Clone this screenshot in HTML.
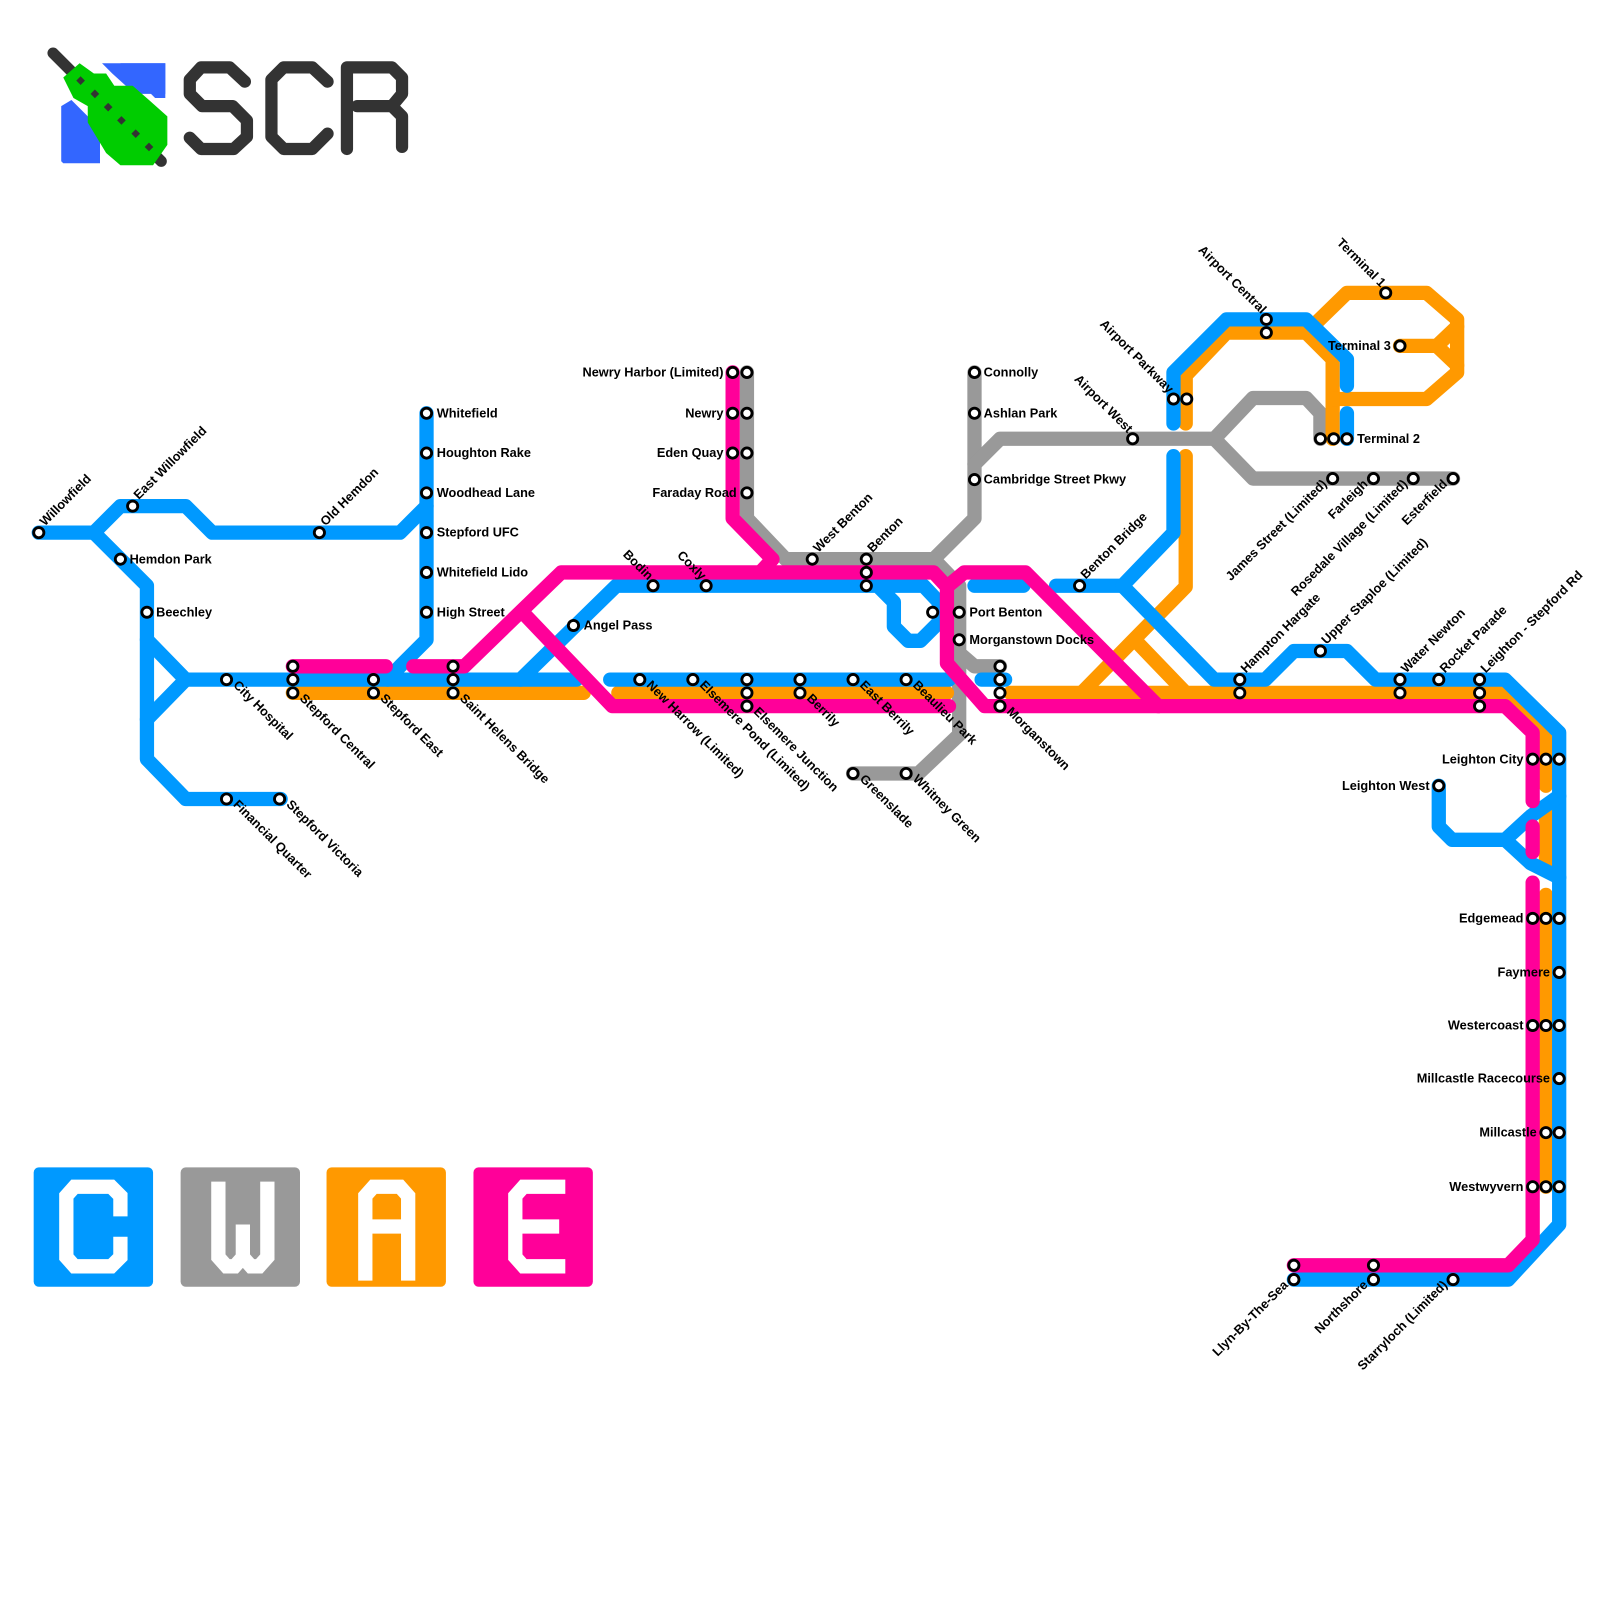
<!DOCTYPE html>
<html><head><meta charset="utf-8"><style>
html,body{margin:0;padding:0;background:#fff}
svg{display:block}
text{font-family:"Liberation Sans",Arial,sans-serif;font-weight:bold;font-size:12.5px;fill:#000}
.l{fill:none;stroke-width:14;stroke-linecap:round;stroke-linejoin:round}
.b{stroke:#0099ff}.g{stroke:#999999}.o{stroke:#ff9900}.p{stroke:#ff0099}
.s{fill:#fff;stroke:#000;stroke-width:2.8}
.e{text-anchor:end}
</style></head><body>
<svg width="1600" height="1600" viewBox="0 0 1568 1568" xmlns="http://www.w3.org/2000/svg">
<!-- Logo -->
<g>
<path d="M100,62 H162 V96 L152,96 L118,62 Z" fill="#3366ff"/>
<path d="M100,62 H162 V92 H132 L110,72 Z" fill="#3366ff"/>
<path d="M60,104 L70,98 L98,126 L98,160 H62 L60,158 Z" fill="#3366ff"/>
<line x1="52" y1="52" x2="158" y2="158" stroke="#333" stroke-width="11" stroke-linecap="round"/>
<path d="M62,76 L78,62 L92,72 L104,72 L112,84 L130,84 L146,98 L164,114 L164,142 L150,162 L118,162 L104,150 L86,120 L86,104 L72,96 Z" fill="#00cc00"/>
<g fill="#333"><rect x="76" y="76" width="6" height="6" transform="rotate(45 79 79)"/><rect x="90" y="89" width="6" height="6" transform="rotate(45 93 92)"/><rect x="103" y="102" width="6" height="6" transform="rotate(45 106 105)"/><rect x="116" y="115" width="6" height="6" transform="rotate(45 119 118)"/><rect x="130" y="128" width="6" height="6" transform="rotate(45 133 131)"/><rect x="143" y="141" width="6" height="6" transform="rotate(45 146 144)"/></g>
<g fill="none" stroke="#333" stroke-width="12" stroke-linecap="round" stroke-linejoin="round">
<path d="M240,80 L225,66 H197 L186,78 V92 L198,104 H228 L242,118 V134 L229,146 H197 L186,135"/>
<path d="M321,80 L306,66 H278 L266,78 V134 L278,146 H306 L321,131"/>
<path d="M340,146 V66 H384 L394,76 V92 L384,104 H350 M384,104 L394,114 V144"/>
</g>
</g>

<!-- GRAY -->
<path class="l g" d="M732,365 V508 L770,548 H915 L955,508 V365"/>
<path class="l g" d="M955,455 L980,430 H1190 L1228,390 H1280 L1294,405 V430"/>
<path class="l g" d="M1190,430 L1228,469 H1424"/>
<path class="l g" d="M915,548 L940,574 V640 L955,653 H980"/>
<path class="l g" d="M940,640 V720 L900,758 H836"/>

<!-- ORANGE -->
<path class="l o" d="M287,679 H572"/>
<path class="l o" d="M606,679 H928"/>
<path class="l o" d="M990,679 H1475 L1515,718 V770"/>
<path class="l o" d="M1515,797 V848"/>
<path class="l o" d="M1515,877 V1163"/>
<path class="l o" d="M1060,679 L1162,575 V447"/>
<path class="l o" d="M1112,627 L1162,679"/>
<path class="l o" d="M1162,415 V368 L1202,326 H1280 L1306,352 V430"/>
<path class="l o" d="M1280,326 L1320,287 H1398 L1428,313 V365 L1398,391 H1306"/>
<path class="l o" d="M1372,339 H1408 L1428,320 M1408,339 L1428,358"/>

<!-- BLUE -->
<path class="l b" d="M38,522 H92 L118,496 H182 L208,522 H392 L418,496"/>
<path class="l b" d="M92,522 L144,574 V744 L182,783 H275"/>
<path class="l b" d="M144,627 L182,666 L144,705"/>
<path class="l b" d="M418,405 V627 L392,653 L380,666"/>
<path class="l b" d="M182,666 H565"/>
<path class="l b" d="M598,666 H930"/>
<path class="l b" d="M962,666 H985"/>
<path class="l b" d="M510,666 L604,574 H860 L876,590 V614 L890,628 H902 L920,610 V590 L905,574 H860"/>
<path class="l b" d="M955,574 H1003"/>
<path class="l b" d="M1035,574 H1100 L1150,522 V447"/>
<path class="l b" d="M1150,415 V365 L1202,313 H1280 L1320,352 V378"/>
<path class="l b" d="M1320,405 V430"/>
<path class="l b" d="M1100,574 L1190,666 H1240 L1268,638 H1320 L1348,666 H1475 L1528,718 V1200 L1478,1254 H1268"/>
<path class="l b" d="M1410,770 V810 L1423,823 H1475 L1500,800 L1528,780 M1475,823 L1500,846 L1528,860"/>

<!-- PINK -->
<path class="l p" d="M287,653 H378"/>
<path class="l p" d="M405,653 H455 L550,561 H915 L928,575 V650 L965,692 H1475 L1502,718 V785"/>
<path class="l p" d="M1502,810 V835"/>
<path class="l p" d="M1502,865 V1215 L1478,1240 H1268"/>
<path class="l p" d="M718,365 V508 L757,548 L745,561"/>
<path class="l p" d="M928,575 L945,561 H1005 L1135,692"/>
<path class="l p" d="M512,600 L600,692 H930"/>

<!-- STATIONS -->
<g class="s">
<circle cx="38" cy="522" r="5"/><circle cx="130" cy="496" r="5"/><circle cx="118" cy="548" r="5"/><circle cx="144" cy="600" r="5"/>
<circle cx="313" cy="522" r="5"/>
<circle cx="418" cy="405" r="5"/><circle cx="418" cy="444" r="5"/><circle cx="418" cy="483" r="5"/><circle cx="418" cy="522" r="5"/><circle cx="418" cy="561" r="5"/><circle cx="418" cy="600" r="5"/>
<circle cx="222" cy="666" r="5"/><circle cx="222" cy="783" r="5"/><circle cx="274" cy="783" r="5"/>
<circle cx="287" cy="653" r="5"/><circle cx="287" cy="666" r="5"/><circle cx="287" cy="679" r="5"/>
<circle cx="366" cy="666" r="5"/><circle cx="366" cy="679" r="5"/>
<circle cx="444" cy="653" r="5"/><circle cx="444" cy="666" r="5"/><circle cx="444" cy="679" r="5"/>
<circle cx="562" cy="613" r="5"/><circle cx="640" cy="574" r="5"/><circle cx="692" cy="574" r="5"/>
<circle cx="627" cy="666" r="5"/><circle cx="679" cy="666" r="5"/>
<circle cx="732" cy="666" r="5"/><circle cx="732" cy="679" r="5"/><circle cx="732" cy="692" r="5"/>
<circle cx="784" cy="666" r="5"/><circle cx="784" cy="679" r="5"/>
<circle cx="836" cy="666" r="5"/><circle cx="888" cy="666" r="5"/>
<circle cx="836" cy="758" r="5"/><circle cx="888" cy="758" r="5"/>
<circle cx="718" cy="365" r="5"/><circle cx="732" cy="365" r="5"/><circle cx="718" cy="405" r="5"/><circle cx="732" cy="405" r="5"/><circle cx="718" cy="444" r="5"/><circle cx="732" cy="444" r="5"/><circle cx="732" cy="483" r="5"/>
<circle cx="796" cy="548" r="5"/><circle cx="849" cy="548" r="5"/><circle cx="849" cy="561" r="5"/><circle cx="849" cy="574" r="5"/>
<circle cx="914" cy="600" r="5"/><circle cx="940" cy="600" r="5"/><circle cx="940" cy="627" r="5"/>
<circle cx="980" cy="653" r="5"/><circle cx="980" cy="666" r="5"/><circle cx="980" cy="679" r="5"/><circle cx="980" cy="692" r="5"/>
<circle cx="955" cy="365" r="5"/><circle cx="955" cy="405" r="5"/><circle cx="955" cy="470" r="5"/>
<circle cx="1058" cy="574" r="5"/><circle cx="1110" cy="430" r="5"/>
<circle cx="1150" cy="391" r="5"/><circle cx="1163" cy="391" r="5"/>
<circle cx="1241" cy="313" r="5"/><circle cx="1241" cy="326" r="5"/>
<circle cx="1358" cy="287" r="5"/><circle cx="1372" cy="339" r="5"/>
<circle cx="1294" cy="430" r="5"/><circle cx="1307" cy="430" r="5"/><circle cx="1320" cy="430" r="5"/>
<circle cx="1306" cy="469" r="5"/><circle cx="1346" cy="469" r="5"/><circle cx="1385" cy="469" r="5"/><circle cx="1424" cy="469" r="5"/>
<circle cx="1215" cy="666" r="5"/><circle cx="1215" cy="679" r="5"/><circle cx="1294" cy="638" r="5"/>
<circle cx="1372" cy="666" r="5"/><circle cx="1372" cy="679" r="5"/><circle cx="1410" cy="666" r="5"/>
<circle cx="1450" cy="666" r="5"/><circle cx="1450" cy="679" r="5"/><circle cx="1450" cy="692" r="5"/>
<circle cx="1502" cy="744" r="5"/><circle cx="1515" cy="744" r="5"/><circle cx="1528" cy="744" r="5"/>
<circle cx="1410" cy="770" r="5"/>
<circle cx="1502" cy="900" r="5"/><circle cx="1515" cy="900" r="5"/><circle cx="1528" cy="900" r="5"/>
<circle cx="1528" cy="953" r="5"/>
<circle cx="1502" cy="1005" r="5"/><circle cx="1515" cy="1005" r="5"/><circle cx="1528" cy="1005" r="5"/>
<circle cx="1528" cy="1057" r="5"/>
<circle cx="1515" cy="1110" r="5"/><circle cx="1528" cy="1110" r="5"/>
<circle cx="1502" cy="1163" r="5"/><circle cx="1515" cy="1163" r="5"/><circle cx="1528" cy="1163" r="5"/>
<circle cx="1268" cy="1240" r="5"/><circle cx="1268" cy="1254" r="5"/>
<circle cx="1346" cy="1240" r="5"/><circle cx="1346" cy="1254" r="5"/>
<circle cx="1424" cy="1254" r="5"/>
</g>

<!-- LABELS -->
<g>
<text transform="translate(44,516) rotate(-45)">Willowfield</text>
<text transform="translate(136,490) rotate(-45)">East Willowfield</text>
<text x="127" y="552">Hemdon Park</text>
<text x="153" y="604">Beechley</text>
<text transform="translate(319,516) rotate(-45)">Old Hemdon</text>
<text x="428" y="409">Whitefield</text>
<text x="428" y="448">Houghton Rake</text>
<text x="428" y="487">Woodhead Lane</text>
<text x="428" y="526">Stepford UFC</text>
<text x="428" y="565">Whitefield Lido</text>
<text x="428" y="604">High Street</text>
<text transform="translate(228,672) rotate(45)">City Hospital</text>
<text transform="translate(228,789) rotate(45)">Financial Quarter</text>
<text transform="translate(280,789) rotate(45)">Stepford Victoria</text>
<text transform="translate(293,685) rotate(45)">Stepford Central</text>
<text transform="translate(372,685) rotate(45)">Stepford East</text>
<text transform="translate(450,685) rotate(45)">Saint Helens Bridge</text>
<text x="572" y="617">Angel Pass</text>
<text class="e" transform="translate(635,569) rotate(45)">Bodin</text>
<text class="e" transform="translate(687,569) rotate(45)">Coxly</text>
<text transform="translate(633,672) rotate(45)">New Harrow (Limited)</text>
<text transform="translate(685,672) rotate(45)">Elsemere Pond (Limited)</text>
<text transform="translate(738,698) rotate(45)">Elsemere Junction</text>
<text transform="translate(790,685) rotate(45)">Berrily</text>
<text transform="translate(842,672) rotate(45)">East Berrily</text>
<text transform="translate(894,672) rotate(45)">Beaulieu Park</text>
<text transform="translate(842,764) rotate(45)">Greenslade</text>
<text transform="translate(894,764) rotate(45)">Whitney Green</text>
<text class="e" x="709" y="369">Newry Harbor (Limited)</text>
<text class="e" x="709" y="409">Newry</text>
<text class="e" x="709" y="448">Eden Quay</text>
<text class="e" x="722" y="487">Faraday Road</text>
<text transform="translate(802,542) rotate(-45)">West Benton</text>
<text transform="translate(855,542) rotate(-45)">Benton</text>
<text x="950" y="604">Port Benton</text>
<text x="950" y="631">Morganstown Docks</text>
<text transform="translate(986,698) rotate(45)">Morganstown</text>
<text x="964" y="369">Connolly</text>
<text x="964" y="409">Ashlan Park</text>
<text x="964" y="474">Cambridge Street Pkwy</text>
<text transform="translate(1064,568) rotate(-45)">Benton Bridge</text>
<text class="e" transform="translate(1105,425) rotate(45)">Airport West</text>
<text class="e" transform="translate(1145,386) rotate(45)">Airport Parkway</text>
<text class="e" transform="translate(1236,308) rotate(45)">Airport Central</text>
<text class="e" transform="translate(1353,282) rotate(45)">Terminal 1</text>
<text class="e" x="1363" y="343">Terminal 3</text>
<text x="1330" y="434">Terminal 2</text>
<text class="e" transform="translate(1301,475) rotate(-45)">James Street (Limited)</text>
<text class="e" transform="translate(1341,475) rotate(-45)">Farleigh</text>
<text class="e" transform="translate(1380,475) rotate(-45)">Rosedale Village (Limited)</text>
<text class="e" transform="translate(1419,475) rotate(-45)">Esterfield</text>
<text transform="translate(1221,660) rotate(-45)">Hampton Hargate</text>
<text transform="translate(1300,632) rotate(-45)">Upper Staploe (Limited)</text>
<text transform="translate(1378,660) rotate(-45)">Water Newton</text>
<text transform="translate(1416,660) rotate(-45)">Rocket Parade</text>
<text transform="translate(1456,660) rotate(-45)">Leighton - Stepford Rd</text>
<text class="e" x="1493" y="748">Leighton City</text>
<text class="e" x="1401" y="774">Leighton West</text>
<text class="e" x="1493" y="904">Edgemead</text>
<text class="e" x="1519" y="957">Faymere</text>
<text class="e" x="1493" y="1009">Westercoast</text>
<text class="e" x="1519" y="1061">Millcastle Racecourse</text>
<text class="e" x="1506" y="1114">Millcastle</text>
<text class="e" x="1493" y="1167">Westwyvern</text>
<text class="e" transform="translate(1263,1260) rotate(-45)">Llyn-By-The-Sea</text>
<text class="e" transform="translate(1341,1260) rotate(-45)">Northshore</text>
<text class="e" transform="translate(1419,1260) rotate(-45)">Starryloch (Limited)</text>
</g>

<!-- LEGEND -->
<rect x="33" y="1144" width="117" height="117" rx="5" fill="#0099ff"/>
<rect x="177" y="1144" width="117" height="117" rx="5" fill="#999999"/>
<rect x="320" y="1144" width="117" height="117" rx="5" fill="#ff9900"/>
<rect x="464" y="1144" width="117" height="117" rx="5" fill="#ff0099"/>
<g fill="none" stroke="#fff" stroke-width="14" stroke-linejoin="miter">
<path d="M118,1192 V1172 L109,1163 H73 L65,1172 V1232 L73,1241 H109 L118,1232 V1212"/>
<path d="M214,1158 V1232 L222,1241 H230 L238,1232 L246,1241 H254 L262,1232 V1158 M238,1232 V1200"/>
<path d="M358,1255 V1172 L366,1163 H392 L400,1172 V1255 M358,1202 H400"/>
<path d="M554,1163 H513 L505,1172 V1232 L513,1241 H554 M505,1202 H548"/>
</g>
</svg>
</body></html>
